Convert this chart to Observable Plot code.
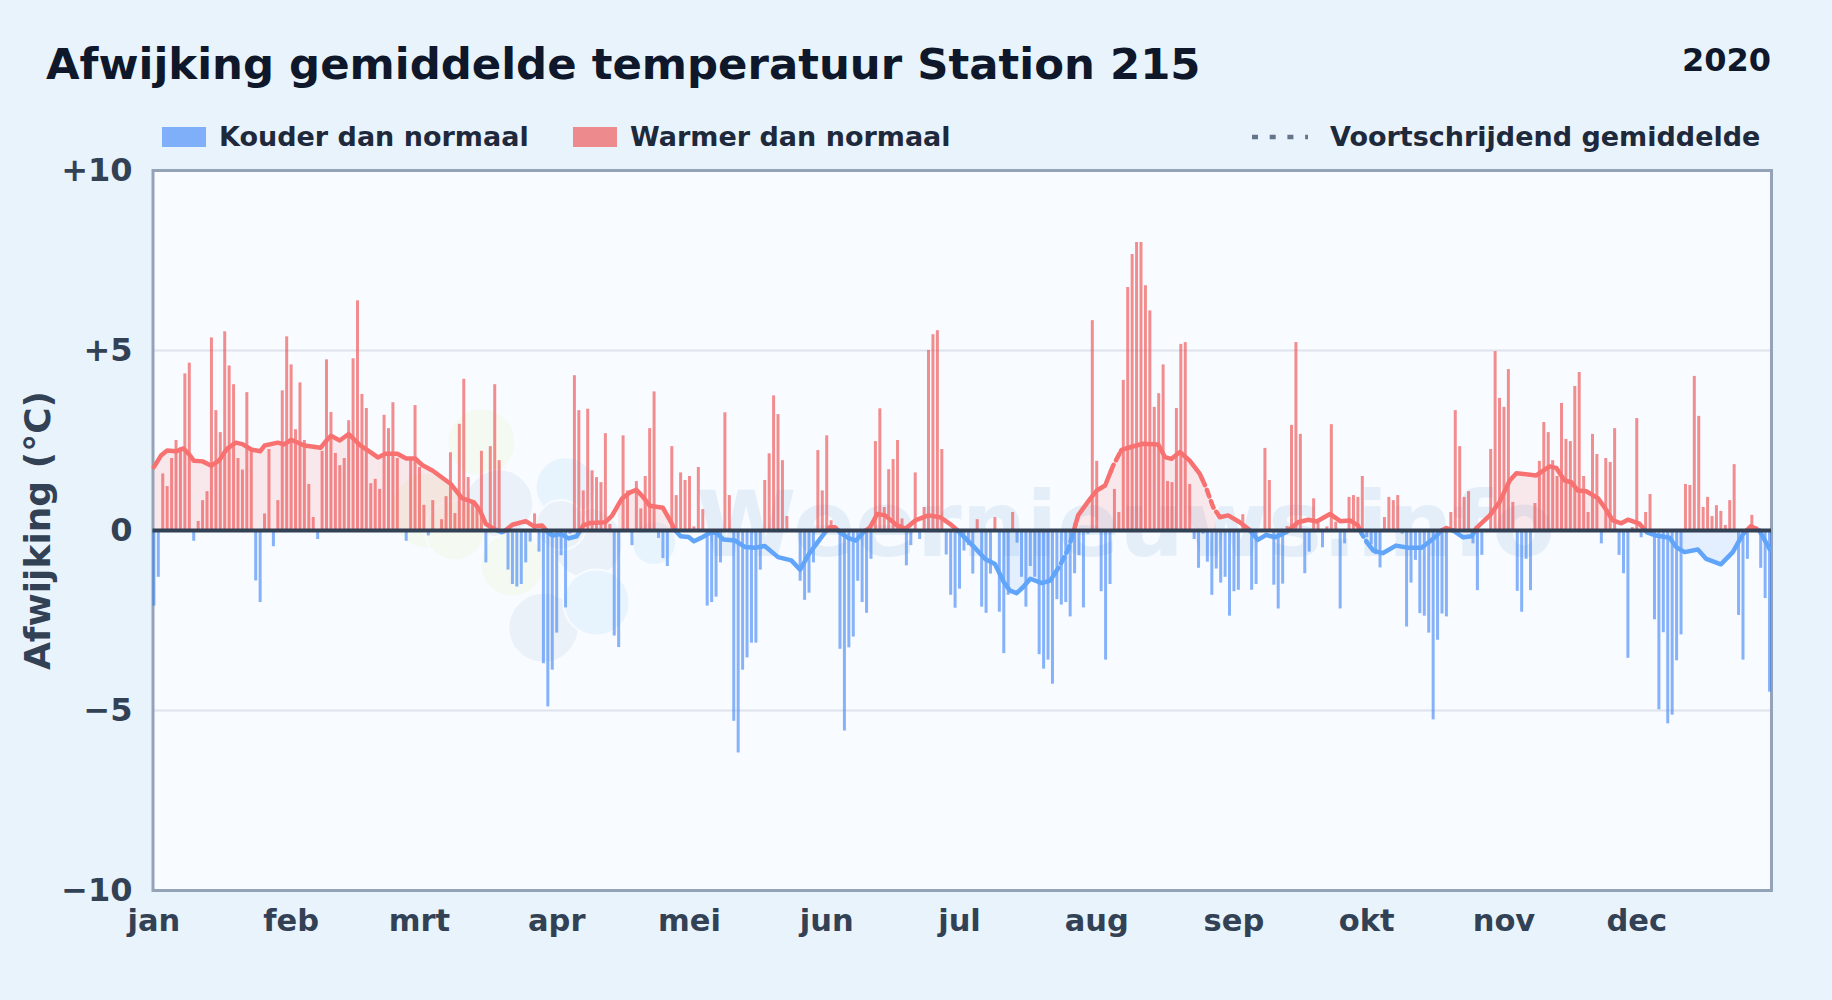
<!DOCTYPE html>
<html lang="nl">
<head>
<meta charset="utf-8">
<script src="https://cdn.jsdelivr.net/npm/d3@7"></script>
<script src="https://cdn.jsdelivr.net/npm/@observablehq/plot@0.6"></script>
<style>
  html, body { margin: 0; padding: 0; width: 1832px; height: 1000px; overflow: hidden; background: #e8f3fc; font-family: "DejaVu Sans", sans-serif; }
  #page { position: relative; width: 1832px; height: 1000px; }
  #title { position: absolute; left: 46px; top: 39px; font-size: 43.4px; font-weight: 700; color: #0f172a; line-height: 50px; white-space: nowrap; }
  #year { position: absolute; right: 61px; top: 39.5px; font-size: 32px; font-weight: 700; color: #0f172a; line-height: 40px; }
  .legend { position: absolute; top: 120px; height: 34px; line-height: 34px; font-size: 27px; font-weight: 700; color: #1e293b; white-space: nowrap; display: flex; align-items: center; }
  .swatch { display: inline-block; width: 44px; height: 20px; margin-right: 13px; }
  #chart { position: absolute; left: 0; top: 140px; }
</style>
</head>
<body>
<div id="page">
  <div id="title">Afwijking gemiddelde temperatuur Station 215</div>
  <div id="year">2020</div>
  <div class="legend" style="left:162px"><span class="swatch" style="background:#3b82f6;opacity:.6"></span>Kouder dan normaal</div>
  <div class="legend" style="left:573px"><span class="swatch" style="background:#ef4444;opacity:.6"></span>Warmer dan normaal</div>
  <div class="legend" style="left:1252px"><svg width="56" height="6" style="margin-right:22px"><line x1="0" x2="56" y1="3" y2="3" stroke="#64748b" stroke-width="4.5" stroke-dasharray="6 11.7"></line></svg>Voortschrijdend gemiddelde</div>
  <div id="chart"></div>
</div>
<script>
const monthStarts = [0, 31, 60, 91, 121, 152, 182, 213, 244, 274, 305, 335];
const monthLabels = ["jan", "feb", "mrt", "apr", "mei", "jun", "jul", "aug", "sep", "okt", "nov", "dec"];
const yTicks = [-10, -5, 0, 5, 10];

const dailyJan = [-2.1,-1.3,1.57,1.22,2.0,2.5,2.3,4.35,4.65,-0.3,0.25,0.83,1.08,5.35,3.33,2.72,5.52,4.57,4.05,2.0,1.68,3.83,2.2,-1.4,-2.0,0.46,2.25,-0.45,0.83,3.88,5.38];
const dailyFeb = [4.6,2.8,4.1,2.5,1.28,0.36,-0.25,2.2,4.74,3.28,2.14,1.8,2.0,3.05,4.77,6.38,3.78,3.39,1.3,1.42,1.14,3.2,2.83,3.55,2.0,0,-0.3,2.0,3.47];
const dailyMar = [1.75,0.7,-0.15,0.83,0,0.3,0.94,2.16,0.47,2.95,4.2,1.47,0.83,0.7,2.2,-0.9,2.33,4.05,1.94,-0.1,-1.1,-1.5,-1.57,-1.5,-0.9,-0.32,0.46,-0.6,-3.7,-4.9,-3.88];
const dailyApr = [-2.85,-0.7,-2.15,-0.1,4.3,3.33,1.1,3.37,1.66,1.47,1.33,2.69,0.17,-2.93,-3.25,2.63,1.1,-0.42,1.36,0.6,1.5,2.83,3.85,-0.22,-0.78,-1.0,2.33,0.97,1.6,1.39];
const dailyMay = [1.5,0.1,1.75,0.58,-2.1,-2.0,-1.85,-0.9,3.27,0.97,-5.3,-6.18,-3.88,-3.54,-3.13,-3.13,-1.1,1.39,2.13,3.74,3.22,1.94,0.39,0,0,-1.41,-1.94,-1.74,-0.9,2.22,1.1];
const dailyJun = [2.63,0.27,0.1,-3.3,-5.57,-3.26,-2.96,-1.41,-2.0,-2.3,-0.8,2.47,3.38,0.64,1.69,1.97,2.5,0.32,-0.98,-0.42,1.6,-0.25,0.64,5.0,5.44,5.55,2.25,-0.68,-1.8,-2.16];
const dailyJul = [-1.63,-0.57,-0.42,-1.21,0.3,-2.13,-2.3,-1.21,0.36,-2.27,-3.42,-1.8,0.5,-0.35,-1.3,-2.13,-1.0,-1.3,-3.45,-3.85,-3.6,-4.27,-1.92,-2.07,-2.0,-2.4,-1.2,-0.7,-2.15,-0.1,5.83];
const dailyAug = [1.92,-1.7,-3.6,-1.5,1.14,0.5,4.17,6.75,7.67,8.0,8.0,6.8,6.1,3.42,3.8,4.6,1.36,1.33,3.39,5.17,5.22,1.28,-0.25,-1.05,-0.1,-0.88,-1.8,-1.07,-1.46,-1.3,-2.38];
const dailySep = [-1.7,-1.66,0.44,0,-1.66,-1.5,0,2.28,1.39,-1.52,-2.18,-1.49,0.11,2.92,5.22,2.67,-1.2,-0.6,0.88,0.2,-0.48,0.1,2.94,0.23,-2.18,-0.37,0.92,0.97,0.92,1.5];
const dailyOct = [-0.2,-0.4,-0.67,-1.04,0.36,0.92,0.83,0.97,-0.1,-2.68,-1.46,-0.83,-2.31,-2.38,-2.85,-5.26,-3.05,-2.32,-2.4,0.5,3.33,2.33,0.92,1.08,-0.37,-1.67,-0.69,0,2.25,4.97,3.67];
const dailyNov = [3.42,4.47,0.78,-1.69,-2.27,-0.8,-1.67,0.75,1.92,3.0,2.72,1.94,1.5,3.53,2.53,2.47,4.0,4.39,1.5,0.5,2.67,2.11,-0.37,2.0,1.89,2.83,-0.69,-1.2,-3.55,0.08];
const dailyDec = [3.11,-0.2,0.5,1.0,-2.48,-4.98,-2.84,-5.37,-5.13,-3.62,-2.9,1.28,1.25,4.28,3.17,0.64,0.92,0.39,0.69,0.53,0.14,0.83,1.83,-2.36,-3.6,-0.8,0.42,0.1,-1.05,-1.89,-4.49];
const dailyValues = [...dailyJan, ...dailyFeb, ...dailyMar, ...dailyApr, ...dailyMay, ...dailyJun, ...dailyJul, ...dailyAug, ...dailySep, ...dailyOct, ...dailyNov, ...dailyDec];

const avgDays = [0,1.6,3,5,6.7,8,9,11,13,14.7,16.5,18.5,20,22,24,25,28,29.4,31,34,37.7,39,40,42,44,46.7,49,50.6,52.3,55,57,59,60.6,63,67,69.6,72.3,73.7,75,77,78.6,79.4,81,84,85.8,87.7,89,90,92,93.7,95.5,97,98.6,102,103.5,105.7,107.6,109,110.6,112,115,116.6,117.8,119,120.8,122,124,125.7,127,128.7,131.3,133.6,135.8,138,141,144,146,148,151.6,152.7,153.9,155,156.9,158.6,160.3,161.8,163.4,165.2,167.9,169.8,172,175,177.6,179.9,182,185,187.8,190,192,193.4,194.9,196.4,198,200.6,202.5,204.7,206.6,207.7,208.8,211.5,213,214.9,216.7,218.6,221.3,223.5,226.9,228.4,229.9,231.8,234,236.3,237.8,239.3,240.8,242.7,245.3,247.2,248,249.4,251.3,253.2,255.8,258.5,260.8,262.7,265.7,268,270.2,272,272.9,274,275.5,277.6,280.6,283.4,286.4,289,290.9,292,293.5,295.8,297.7,298.8,301.8,304,306.3,307.8,312.3,315.3,316.8,318.7,320.2,321.7,323.6,326.2,327.7,329.6,331.5,333,335.6,337.3,339.4,342.4,343.9,345.8,348.8,350.7,354,356.7,359,360.8,362.7,365];
const avgValues = [1.76,2.08,2.22,2.2,2.28,2.11,1.94,1.92,1.8,1.94,2.27,2.44,2.4,2.25,2.2,2.36,2.44,2.39,2.52,2.36,2.3,2.5,2.63,2.5,2.68,2.36,2.17,2.03,2.13,2.13,2.0,2.0,1.82,1.66,1.3,0.9,0.78,0.55,0.18,0.03,-0.05,0,0.16,0.26,0.12,0.14,-0.05,-0.14,-0.1,-0.22,-0.16,0.14,0.21,0.23,0.41,0.88,1.06,1.13,0.92,0.69,0.63,0.28,0,-0.16,-0.18,-0.3,-0.18,-0.06,-0.06,-0.25,-0.28,-0.46,-0.48,-0.43,-0.74,-0.83,-1.09,-0.65,-0.05,0.09,0.09,-0.05,-0.21,-0.28,-0.05,0.09,0.46,0.42,0.14,0.05,0.28,0.42,0.37,0.18,-0.05,-0.42,-0.79,-0.93,-1.43,-1.67,-1.74,-1.57,-1.34,-1.46,-1.39,-0.97,-0.51,-0.05,0.42,0.88,1.11,1.25,1.8,2.24,2.34,2.41,2.39,2.04,1.99,2.18,1.94,1.57,1.16,0.65,0.37,0.42,0.23,0.05,-0.05,-0.26,-0.12,-0.19,-0.05,0.23,0.3,0.25,0.46,0.26,0.28,0.14,-0.1,-0.32,-0.56,-0.63,-0.42,-0.48,-0.48,-0.23,0,0.07,0,-0.19,-0.16,0.07,0.42,0.79,1.39,1.59,1.53,1.78,1.74,1.39,1.34,1.11,1.09,0.9,0.65,0.28,0.2,0.3,0.19,-0.05,-0.14,-0.2,-0.46,-0.6,-0.53,-0.79,-0.94,-0.6,-0.1,0.12,0,-0.51];

const dashedSpans = [[203.5, 208.2], [216.2, 218.4], [236.8, 240.6], [272.4, 274]];
const redFillSpans = [[0, 74], [105, 117], [209, 240], [304, 329]];
const blueFillSpans = [[192, 203], [344, 358]];

const watermarkText = ["Weernieuws.info"];
const yAxisTitle = ["Afwijking (\u00B0C)"];
const blobDays = [74, 62, 81, 68, 78, 88, 98, 92, 93, 100, 113];
const blobValues = [2.45, 0.55, -0.95, 0, 0.75, -2.7, -0.35, 0.15, 1.2, -2, -0.35];
const blobRadii = [34, 38, 32, 30, 34, 35, 35, 25, 30, 33, 22];
const blobColors = ["#f4faf1", "#f4faf1", "#f4faf1", "#f4faf1", "#eaf1f9", "#eaf1f9", "#eaf1f9", "#eaf1f9", "#e8f4fd", "#e8f4fd", "#e8f4fd"];

const RED = "#f87171", BLUE = "#60a5fa";

const bars = dailyValues.map((v, day) => ({day, v}));
const blobs = blobDays.map((day, i) => ({day, v: blobValues[i], r: blobRadii[i], color: blobColors[i]}));
const avgPts = avgDays.map((d, i) => ({d, v: avgValues[i]}));

function interp(d) {
  const i = Math.max(1, d3.bisectLeft(avgDays, d));
  const a = avgPts[i - 1], b = avgPts[Math.min(i, avgPts.length - 1)];
  return b.d === a.d ? a.v : a.v + (b.v - a.v) * (d - a.d) / (b.d - a.d);
}
const cuts = new Set(avgDays);
for (let i = 1; i < avgPts.length; i++) {
  const a = avgPts[i - 1], b = avgPts[i];
  if (a.v * b.v < 0) cuts.add(a.d + (b.d - a.d) * a.v / (a.v - b.v));
}
dashedSpans.flat().concat(redFillSpans.flat(), blueFillSpans.flat()).forEach(d => cuts.add(d));
const fine = [...cuts].sort(d3.ascending).map(d => ({d, v: Math.abs(interp(d)) < 1e-9 ? 0 : interp(d)}));

const solidSegs = [], dashSegs = [];
for (let i = 1; i < fine.length; i++) {
  const a = fine[i - 1], b = fine[i], mid = (a.d + b.d) / 2;
  const color = (a.v + b.v) / 2 >= 0 ? RED : BLUE;
  const dashed = dashedSpans.some(([s, e]) => mid >= s && mid <= e);
  const target = dashed ? dashSegs : solidSegs;
  const last = target[target.length - 1];
  if (last && last.color === color && last.pts[last.pts.length - 1] === a) last.pts.push(b);
  else target.push({color, pts: [a, b]});
}
const flatten = segs => segs.flatMap((s, k) => s.pts.map(p => ({d: p.d, v: p.v, k, color: s.color})));
const spanPts = spans => spans.flatMap(([s, e], k) => fine.filter(p => p.d >= s && p.d <= e).map(p => ({d: p.d, v: p.v, k})));

const plot = Plot.plot({
  width: 1832,
  height: 820,
  marginTop: 30,
  marginBottom: 70,
  marginLeft: 152.5,
  marginRight: 61,
  style: {background: "transparent", fontFamily: "'DejaVu Sans', sans-serif", overflow: "visible"},
  x: {domain: [-0.2, 365.44], axis: null},
  y: {domain: [-10, 10], axis: null},
  r: {type: "identity"},
  color: {type: "identity"},
  marks: [
    Plot.frame({fill: "#f8fbff", stroke: "none"}),
    Plot.dot(blobs, {x: "day", y: "v", r: "r", fill: "color", stroke: "#f8fbff", strokeWidth: 2}),
    Plot.text(watermarkText, {x: [219.5], y: [0.1], text: d => d, fontSize: 91, fontWeight: 700, fill: "#e4eef9", textAnchor: "middle"}),
    Plot.ruleY([-5, 5], {stroke: "#dde4ec", strokeWidth: 2}),
    Plot.areaY(spanPts(redFillSpans), {x: "d", y1: 0, y2: "v", z: "k", fill: "#f87171", fillOpacity: 0.14, curve: "linear"}),
    Plot.areaY(spanPts(blueFillSpans), {x: "d", y1: 0, y2: "v", z: "k", fill: "#60a5fa", fillOpacity: 0.14, curve: "linear"}),
    Plot.frame({stroke: "#94a3b8", strokeWidth: 3}),
    Plot.ruleX(bars.filter(b => b.v > 0), {x: "day", y1: 0, y2: "v", stroke: "#ef4444", strokeOpacity: 0.6, strokeWidth: 3}),
    Plot.ruleX(bars.filter(b => b.v < 0), {x: "day", y1: 0, y2: "v", stroke: "#3b82f6", strokeOpacity: 0.6, strokeWidth: 3}),
    Plot.line(flatten(solidSegs), {x: "d", y: "v", z: "k", stroke: "color", strokeWidth: 4.5, strokeLinecap: "round", strokeLinejoin: "round", curve: "linear"}),
    Plot.line(flatten(dashSegs), {x: "d", y: "v", z: "k", stroke: "color", strokeWidth: 4.5, strokeDasharray: "7 5", curve: "linear"}),
    Plot.ruleY([0], {stroke: "#334155", strokeWidth: 4}),
    Plot.text(yAxisTitle, {frameAnchor: "left", dx: -114.5, rotate: -90, textAnchor: "middle", text: d => d, fontSize: 36, fontWeight: 700, fill: "#334155"}),
    Plot.axisY({
      ticks: yTicks,
      tickSize: 0,
      tickPadding: 20.5,
      tickFormat: d => d > 0 ? "+" + d : d < 0 ? "\u2212" + Math.abs(d) : "0",
      fontSize: 32,
      fontWeight: 700,
      fill: "#334155",
      label: null
    }),
    Plot.axisX({
      ticks: monthStarts,
      tickSize: 0,
      tickPadding: 19,
      tickFormat: d => monthLabels[monthStarts.indexOf(d)],
      fontSize: 30.5,
      fontWeight: 700,
      fill: "#334155",
      label: null
    })
  ]
});
document.getElementById("chart").append(plot);
</script>
</body>
</html>
